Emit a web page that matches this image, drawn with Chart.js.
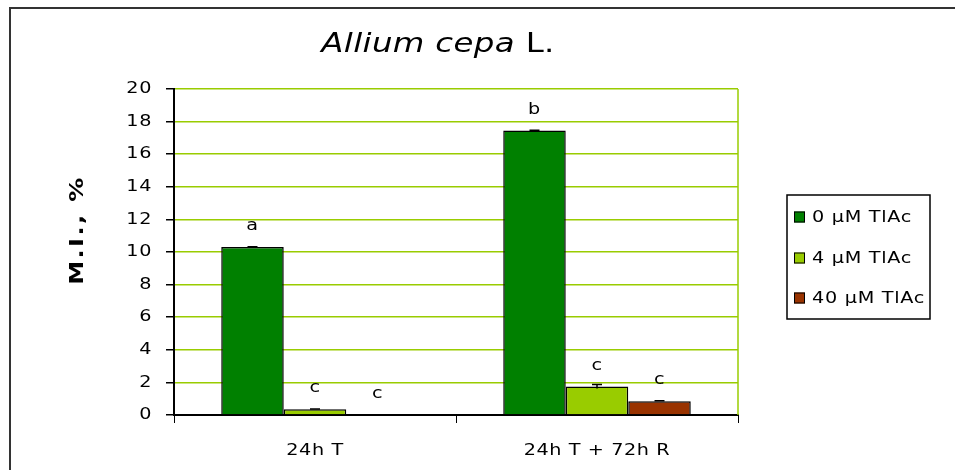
<!DOCTYPE html>
<html><head><meta charset="utf-8">
<script src="https://cdn.jsdelivr.net/npm/chart.js@4"></script>
<style>html,body{margin:0;padding:0;background:#fff}canvas{display:block}</style>
</head><body>
<canvas id="c" width="955" height="470"></canvas>
<script>
// ---- data ----
const categories = ['24h T', '24h T + 72h R'];
const seriesLabels = ['0 µM TlAc', '4 µM TlAc', '40 µM TlAc'];
const values0 = [10.3, 17.45];
const values4 = [0.35, 1.75];
const values40 = [0, 0.85];
const errors0 = [0.02, 0.02];
const errors4 = [0.02, 0.12];
const errors40 = [0, 0.02];
const letters0 = ['a', 'b'];
const letters4 = ['c', 'c'];
const letters40 = ['c', 'c'];
const yMin = 0, yMax = 20, yStep = 2;
const titleItalic = 'Allium cepa';
const titleNormal = ' L.';
const yTitle = 'M.I., %';

// ---- styles ----
const FONT = "'DejaVu Sans', Verdana, sans-serif";
const colors = ['#008000', '#99cc00', '#993300'];
const gridColor = '#99cc00';
const errorsBySeries = [errors0, errors4, errors40];
const lettersBySeries = [letters0, letters4, letters40];
const SX = 1.2; // horizontal stretch of glyphs (wide bitmap-style font)

const canvas = document.getElementById('c');
const c2d = canvas.getContext('2d');
const oFill = CanvasRenderingContext2D.prototype.fillText;
const oMeasure = CanvasRenderingContext2D.prototype.measureText;
c2d.fillText = function (t, x, y) {
  this.save();
  this.translate(x, y);
  this.scale(SX, 1);
  oFill.call(this, t, 0, 0);
  this.restore();
};
c2d.measureText = function (t) {
  const m = oMeasure.call(this, t);
  return {
    width: m.width * SX,
    actualBoundingBoxAscent: m.actualBoundingBoxAscent,
    actualBoundingBoxDescent: m.actualBoundingBoxDescent,
    actualBoundingBoxLeft: m.actualBoundingBoxLeft * SX,
    actualBoundingBoxRight: m.actualBoundingBoxRight * SX
  };
};

const spacingPlugin = {
  id: 'spacing',
  beforeLayout(chart) { chart.ctx.letterSpacing = '0.5px'; },
  beforeDraw(chart) { chart.ctx.letterSpacing = '0.5px'; }
};

const decorPlugin = {
  id: 'decor',
  beforeDraw(chart) {
    const ctx = chart.ctx;
    ctx.save();
    ctx.fillStyle = '#fff';
    ctx.fillRect(0, 0, chart.width, chart.height);
    ctx.restore();
  },
  afterDatasetsDraw(chart) {
    const ctx = chart.ctx;
    const y = chart.scales.y;
    ctx.save();
    chart.data.datasets.forEach((ds, i) => {
      const meta = chart.getDatasetMeta(i);
      meta.data.forEach((bar, j) => {
        const v = ds.data[j];
        const e = errorsBySeries[i][j];
        const x = bar.x;
        if (e > 0) {
          const yt = y.getPixelForValue(v + e), yb = y.getPixelForValue(v - e);
          ctx.strokeStyle = '#000'; ctx.lineWidth = 1.5;
          ctx.beginPath();
          ctx.moveTo(x, yt); ctx.lineTo(x, yb);
          ctx.moveTo(x - 5, yt); ctx.lineTo(x + 5, yt);
          ctx.stroke();
        }
        ctx.fillStyle = '#000';
        ctx.font = '16px ' + FONT;
        ctx.letterSpacing = '0.5px';
        ctx.textAlign = 'center';
        ctx.textBaseline = 'middle';
        ctx.fillText(lettersBySeries[i][j], x, y.getPixelForValue(v) - 21);
      });
    });
    ctx.restore();
  },
  afterDraw(chart) {
    const ctx = chart.ctx;
    const a = chart.chartArea;
    ctx.save();
    // outer frame
    ctx.strokeStyle = '#333'; ctx.lineWidth = 2;
    ctx.beginPath();
    ctx.moveTo(955, 8); ctx.lineTo(10, 8); ctx.lineTo(10, 470);
    ctx.stroke();
    // right plot border
    ctx.strokeStyle = gridColor; ctx.lineWidth = 1.5;
    ctx.beginPath();
    ctx.moveTo(a.right, a.top); ctx.lineTo(a.right, a.bottom);
    ctx.stroke();
    // title
    ctx.fillStyle = '#000';
    ctx.textBaseline = 'middle';
    ctx.textAlign = 'left';
    ctx.letterSpacing = '0.3px';
    ctx.font = 'italic 27px ' + FONT;
    const w1 = ctx.measureText(titleItalic).width;
    ctx.font = '27px ' + FONT;
    const w2 = ctx.measureText(titleNormal).width;
    const tx = 438 - (w1 + w2) / 2;
    ctx.font = 'italic 27px ' + FONT;
    ctx.fillText(titleItalic, tx, 45);
    ctx.font = '27px ' + FONT;
    ctx.fillText(titleNormal, tx + w1, 45);
    // y title
    ctx.save();
    ctx.translate(78, 230);
    ctx.rotate(-Math.PI / 2);
    ctx.font = 'bold 20px ' + FONT;
    ctx.letterSpacing = '2px';
    ctx.textAlign = 'center';
    ctx.fillText(yTitle, 0, 0);
    ctx.restore();
    // legend
    ctx.strokeStyle = '#000'; ctx.lineWidth = 1.5;
    ctx.strokeRect(787, 195, 143, 124);
    ctx.font = '16px ' + FONT;
    ctx.letterSpacing = '0.6px';
    ctx.textAlign = 'left';
    const ys = [217, 258, 298];
    chart.data.datasets.forEach((ds, i) => {
      ctx.fillStyle = ds.backgroundColor;
      ctx.fillRect(794, ys[i] - 5.5, 11, 11);
      ctx.strokeStyle = '#000'; ctx.lineWidth = 1;
      ctx.strokeRect(794.5, ys[i] - 5, 10, 10);
      ctx.fillStyle = '#000';
      ctx.fillText(ds.label, 812, ys[i] + 1);
    });
    ctx.restore();
  }
};

const seriesValues = [values0, values4, values40];
new Chart(canvas, {
  type: 'bar',
  data: {
    labels: categories,
    datasets: seriesLabels.map((lab, i) => ({
      label: lab,
      data: seriesValues[i],
      backgroundColor: colors[i],
      borderColor: '#000',
      borderWidth: 1.5,
      categoryPercentage: 0.665,
      barPercentage: 1.0
    }))
  },
  options: {
    responsive: false,
    animation: false,
    devicePixelRatio: 1,
    layout: { padding: { left: 10, top: 89, right: 217, bottom: 0 } },
    plugins: { legend: { display: false }, title: { display: false }, tooltip: { enabled: false } },
    scales: {
      x: {
        grid: { display: true, drawOnChartArea: false, drawTicks: true, tickLength: 8, tickColor: '#000', offset: true },
        border: { display: true, color: '#000', width: 2 },
        ticks: { color: '#000', font: { family: FONT, size: 16 }, padding: 18 },
        afterFit(s) { s.height = 55; }
      },
      y: {
        min: yMin, max: yMax,
        grid: {
          color: (c) => (c.tick && c.tick.value === 0) ? 'rgba(0,0,0,0)' : gridColor,
          lineWidth: 1.5,
          tickColor: '#000', tickLength: 8
        },
        border: { display: true, color: '#000', width: 2 },
        ticks: { stepSize: yStep, color: '#000', font: { family: FONT, size: 16 }, padding: 14 },
        afterFit(s) { s.width = 164; }
      }
    }
  },
  plugins: [spacingPlugin, decorPlugin]
});
</script>
</body></html>
